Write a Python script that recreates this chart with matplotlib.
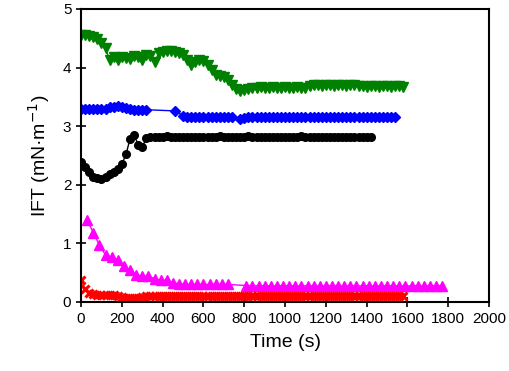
import numpy as np
import matplotlib
matplotlib.use('Agg')
import matplotlib.pyplot as plt

plt.rcParams['font.family'] = ['Liberation Sans', 'DejaVu Sans']

# green, downward triangles (sampled every 20 s)
t_green = np.arange(0, 1600, 20)
ift_green = [4.55, 4.55, 4.54, 4.52, 4.48, 4.42, 4.33, 4.12,
             4.18, 4.12, 4.18, 4.17, 4.14, 4.20, 4.18, 4.12, 4.21, 4.20,
             4.10, 4.24, 4.27, 4.28, 4.28, 4.27, 4.25, 4.22, 4.12, 4.05,
             4.10, 4.12, 4.11, 4.05, 3.95, 3.88, 3.86, 3.84, 3.78, 3.70,
             3.64, 3.60, 3.62, 3.64,
             3.65, 3.65, 3.66, 3.65, 3.65, 3.66, 3.65, 3.65, 3.66, 3.65,
             3.65, 3.66, 3.65, 3.65,
             3.69, 3.70, 3.70, 3.69, 3.70, 3.70, 3.69, 3.70, 3.70, 3.69,
             3.70, 3.70,
             3.68, 3.68, 3.67, 3.68, 3.68, 3.67, 3.68, 3.68, 3.67, 3.68,
             3.68, 3.67]

# blue, diamonds
t_blue = list(range(0, 340, 20)) + [460] + list(range(500, 760, 20)) + list(range(780, 1560, 20))
ift_blue = [3.30, 3.30, 3.30, 3.30, 3.30, 3.30, 3.30, 3.32, 3.33, 3.34,
            3.33, 3.31, 3.29, 3.28, 3.27, 3.28, 3.28,
            3.26,
            3.18, 3.15, 3.15, 3.15, 3.15, 3.15, 3.15, 3.15, 3.15, 3.15,
            3.15, 3.15, 3.15,
            3.12, 3.14, 3.15, 3.15, 3.15, 3.15, 3.15, 3.15, 3.15, 3.15,
            3.15, 3.15, 3.15, 3.15, 3.15, 3.15, 3.15, 3.15, 3.15, 3.15,
            3.15, 3.15, 3.15, 3.15, 3.15, 3.15, 3.15, 3.15, 3.15, 3.15,
            3.15, 3.15, 3.15, 3.15, 3.15, 3.15, 3.15, 3.15, 3.15]

# black, circles
t_black = np.arange(0, 1440, 20)
ift_black = [2.38, 2.30, 2.22, 2.14, 2.11, 2.10, 2.14, 2.18, 2.22, 2.27,
             2.35, 2.52, 2.78, 2.85, 2.68, 2.64, 2.80, 2.82,
             2.82, 2.81, 2.82, 2.83, 2.82, 2.81, 2.82, 2.82, 2.81, 2.82,
             2.82, 2.81, 2.82, 2.82, 2.81, 2.82, 2.83, 2.82, 2.81, 2.82,
             2.82, 2.81, 2.82, 2.83, 2.82, 2.81, 2.82, 2.82, 2.81, 2.82,
             2.82, 2.81, 2.82, 2.82, 2.81, 2.82, 2.83, 2.82, 2.81, 2.82,
             2.82, 2.81, 2.82, 2.82, 2.81, 2.82, 2.82, 2.81, 2.82, 2.82,
             2.81, 2.82, 2.82, 2.81]

# magenta, upward triangles (sampled every 30 s)
t_magenta = list(range(30, 750, 30)) + list(range(810, 1800, 30))
ift_magenta = [1.40, 1.18, 0.97, 0.80, 0.76, 0.72, 0.62, 0.54, 0.46, 0.44,
               0.44, 0.40, 0.37, 0.37, 0.33, 0.31, 0.30, 0.30, 0.30, 0.30,
               0.30, 0.30, 0.30, 0.30,
               0.28, 0.27, 0.28, 0.27, 0.28, 0.27, 0.28, 0.27, 0.28, 0.27,
               0.28, 0.27, 0.28, 0.27, 0.28, 0.27, 0.28, 0.27, 0.28, 0.27,
               0.28, 0.27, 0.28, 0.27, 0.28, 0.27, 0.28, 0.27, 0.28, 0.27,
               0.28, 0.27, 0.28]

# red, crosses
t_red = np.arange(0, 1600, 20)
ift_red = [0.38, 0.22, 0.15, 0.13, 0.12, 0.12, 0.12, 0.12, 0.12, 0.10,
           0.08, 0.07, 0.06, 0.06, 0.07, 0.09] + [0.10] * 64

fig = plt.figure(figsize=(5.10, 3.71), dpi=100)
ax = fig.add_axes([0.159, 0.186, 0.800, 0.790])

ax.plot(t_green, ift_green, color='#008000', marker='v', ms=7, lw=1, mec='#008000')
ax.plot(t_blue, ift_blue, color='#0000ff', marker='D', ms=5.5, lw=1)
ax.plot(t_black, ift_black, color='black', marker='o', ms=5.5, lw=1)
ax.plot(t_magenta, ift_magenta, color='#ff00ff', marker='^', ms=7, lw=1)
ax.plot(t_red, ift_red, color='#ff0000', marker='x', ms=6, mew=2.2, lw=1)

ax.set_xlim(0, 2000)
ax.set_ylim(0, 5)
ax.set_xticks(range(0, 2001, 200))
ax.set_yticks(range(0, 6))
ax.tick_params(direction='inout', length=7, width=1.2, labelsize=11, top=False, right=False)
for s in ax.spines.values():
    s.set_linewidth(1.5)

ax.set_xlabel('Time (s)', fontsize=14, labelpad=6)
ax.set_ylabel('IFT (mN·m$^{-1}$)', fontsize=14, labelpad=8)

fig.savefig('out.png', dpi=100)
